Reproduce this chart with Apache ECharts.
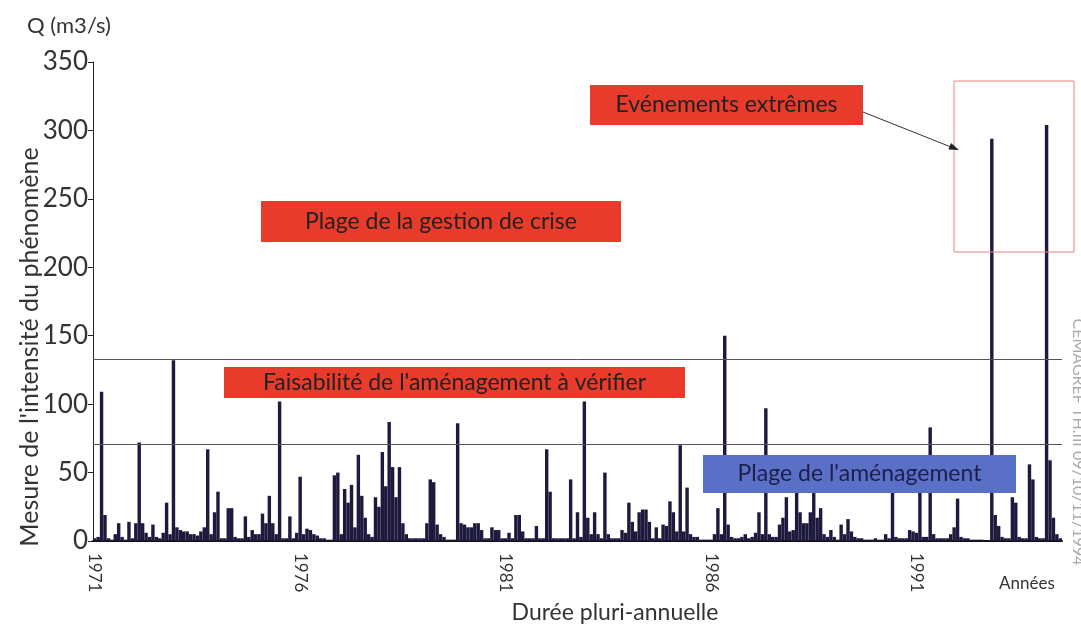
<!DOCTYPE html>
<html>
<head>
<meta charset="utf-8">
<script src="https://cdn.jsdelivr.net/npm/echarts@6/dist/echarts.min.js"></script>
<style>
  html, body { margin: 0; padding: 0; background: #fff; }
  #main { width: 1081px; height: 628px; }
</style>
</head>
<body>
<div id="main"></div>
<script>
// débits mensuels (m3/s), un tableau par année
var q1971 = [2, 3, 109, 19, 2, 1, 5, 13, 3, 1, 14, 2];
var q1972 = [13, 72, 13, 6, 3, 12, 3, 2, 6, 28, 5, 132];
var q1973 = [10, 8, 7, 7, 5, 5, 4, 7, 10, 67, 5, 21];
var q1974 = [36, 2, 2, 24, 24, 3, 2, 2, 18, 3, 8, 5];
var q1975 = [5, 20, 13, 33, 13, 5, 102, 2, 2, 18, 2, 6];
var q1976 = [47, 5, 9, 8, 5, 4, 2, 2, 1, 1, 48, 50];
var q1977 = [5, 38, 28, 41, 10, 63, 33, 17, 5, 3, 32, 25];
var q1978 = [65, 40, 87, 54, 32, 54, 13, 5, 2, 2, 2, 2];
var q1979 = [2, 13, 45, 43, 12, 5, 3, 1, 1, 1, 86, 13];
var q1980 = [12, 10, 10, 13, 13, 8, 2, 2, 10, 8, 8, 2];
var q1981 = [2, 6, 2, 19, 19, 7, 2, 2, 2, 11, 2, 2];
var q1982 = [67, 36, 2, 2, 2, 2, 2, 45, 2, 21, 3, 102];
var q1983 = [17, 5, 21, 5, 2, 50, 5, 2, 2, 2, 8, 6];
var q1984 = [28, 14, 7, 21, 23, 23, 14, 2, 10, 2, 12, 11];
var q1985 = [29, 21, 7, 70, 7, 39, 5, 3, 3, 1, 1, 1];
var q1986 = [1, 5, 24, 5, 150, 12, 3, 2, 2, 3, 5, 2];
var q1987 = [3, 6, 21, 5, 97, 5, 3, 3, 12, 17, 32, 7];
var q1988 = [8, 40, 21, 13, 13, 21, 42, 17, 24, 5, 3, 8];
var q1989 = [3, 1, 12, 5, 16, 7, 3, 2, 2, 1, 1, 1];
var q1990 = [2, 1, 1, 5, 2, 40, 3, 2, 2, 2, 8, 7];
var q1991 = [6, 40, 3, 3, 83, 5, 2, 2, 2, 2, 5, 10];
var q1992 = [31, 3, 2, 2, 1, 1, 1, 1, 0.5, 0.5, 294, 19];
var q1993 = [11, 3, 2, 2, 32, 28, 3, 2, 2, 56, 45, 3];
var q1994 = [2, 2, 304, 59, 17, 5, 2];

var years = ['1971', '1972', '1973', '1974', '1975', '1976', '1977', '1978',
             '1979', '1980', '1981', '1982', '1983', '1984', '1985', '1986',
             '1987', '1988', '1989', '1990', '1991', '1992', '1993', '1994'];
var yearlyQ = [q1971, q1972, q1973, q1974, q1975, q1976, q1977, q1978,
               q1979, q1980, q1981, q1982, q1983, q1984, q1985, q1986,
               q1987, q1988, q1989, q1990, q1991, q1992, q1993, q1994];
var shownYears = ['1971', '1976', '1981', '1986', '1991'];
var seuils = [133, 71];   // seuils horizontaux

var months = [];
var debits = [];
yearlyQ.forEach(function (arr, k) {
  arr.forEach(function (v, j) {
    months.push(years[k] + '-' + (j + 1));
    debits.push(v);
  });
});

var FONT = 'Lato, "Open Sans", sans-serif';
var rouge = '#e83b2c';
var bleu = '#5a6fc6';

function boite(x, y, w, h, fill, txt, col) {
  return [
    { type: 'rect', z: 100, shape: { x: x, y: y, width: w, height: h }, style: { fill: fill } },
    { type: 'text', z: 101, x: x + w / 2, y: y + h / 2,
      style: { text: txt, font: '23px ' + FONT, fill: col, textAlign: 'center', textVerticalAlign: 'middle', verticalAlign: 'middle' } }
  ];
}

function texte(x, y, txt, size, extra) {
  var el = { type: 'text', z: 50, x: x, y: y,
    style: { text: txt, font: size + 'px ' + FONT, fill: '#333', textAlign: 'center', textVerticalAlign: 'middle', verticalAlign: 'middle' } };
  for (var k in extra) { el[k] = extra[k]; }
  return el;
}

var myChart = echarts.init(document.getElementById('main'));

var option = {
  backgroundColor: '#fff',
  animation: false,
  grid: { left: 93, right: 19, top: 62, bottom: 87 },
  xAxis: {
    type: 'category',
    data: months,
    axisLine: { lineStyle: { color: '#111', width: 2 } },
    axisTick: {
      interval: function (i) { return i % 12 === 0; },
      length: 5,
      lineStyle: { color: '#111', width: 1.5 }
    },
    axisLabel: {
      interval: function (i, v) { return shownYears.indexOf(v.slice(0, 4)) >= 0 && v.slice(5) === '1'; },
      formatter: function (v) { return v.slice(0, 4); },
      rotate: -90,
      margin: 12,
      fontSize: 17,
      fontFamily: FONT,
      color: '#333'
    },
    splitLine: { show: false }
  },
  yAxis: {
    type: 'value',
    min: 0,
    max: 350,
    interval: 50,
    axisLine: { show: true, lineStyle: { color: '#222', width: 1 } },
    axisTick: { show: true, length: 5, lineStyle: { color: '#222' } },
    axisLabel: { fontSize: 26, fontFamily: FONT, color: '#333', margin: 5 },
    splitLine: { show: false }
  },
  series: [{
    type: 'bar',
    data: debits,
    barCategoryGap: '0%',
    itemStyle: { color: '#1e1a3e' },
    markLine: {
      silent: true,
      symbol: 'none',
      label: { show: false },
      lineStyle: { color: '#555', width: 1, type: 'solid' },
      data: seuils.map(function (s) { return { yAxis: s }; })
    }
  }],
  graphic: [].concat(
    boite(590, 85, 273, 40, rouge, 'Evénements extrêmes', '#222'),
    boite(261, 201, 360, 41, rouge, 'Plage de la gestion de crise', '#222'),
    boite(224, 367, 461, 31, rouge, "Faisabilité de l'aménagement à vérifier", '#222'),
    boite(703, 455, 313, 38, bleu, "Plage de l'aménagement", '#1e1f4a'),
    [
      { type: 'rect', z: 90, shape: { x: 954, y: 81, width: 120, height: 171 },
        style: { fill: 'none', stroke: '#e8857c', lineWidth: 1 } },
      { type: 'line', z: 102, shape: { x1: 863, y1: 112, x2: 951, y2: 147 },
        style: { stroke: '#333', lineWidth: 1 } },
      { type: 'polygon', z: 102, shape: { points: [[959, 150], [948.4, 149.6], [951, 143]] },
        style: { fill: '#222' } },
      texte(69, 26, 'Q (m3/s)', 22),
      texte(1027, 584, 'Années', 17),
      texte(615, 613, 'Durée pluri-annuelle', 23),
      texte(30, 347, "Mesure de l'intensité du phénomène", 25, { rotation: Math.PI / 2 }),
      {
        type: 'text', x: 1078, y: 442, rotation: -Math.PI / 2,
        style: { text: 'CEMAGREF TH.III 09/10/11/1994', font: '16px ' + FONT, fill: '#aaa', textAlign: 'center', textVerticalAlign: 'middle', verticalAlign: 'middle' }
      }
    ]
  )
};

myChart.setOption(option);
</script>
</body>
</html>
